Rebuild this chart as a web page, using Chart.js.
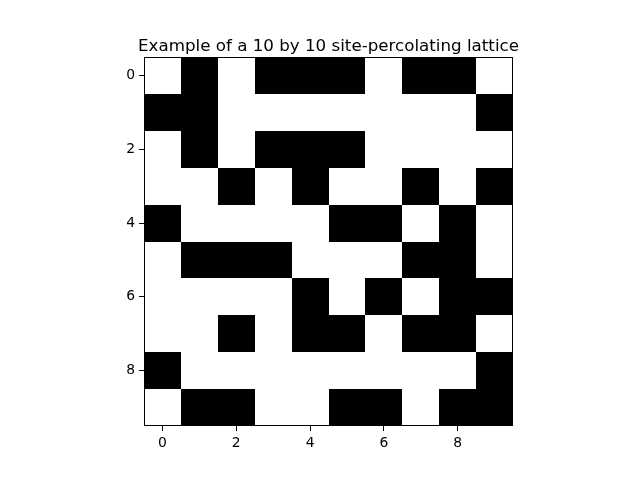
<!DOCTYPE html>
<html>
<head>
<meta charset="utf-8">
<script src="https://cdn.jsdelivr.net/npm/chart.js@4"></script>
<style>
html,body{margin:0;padding:0;background:#fff;}
#wrap{width:640px;height:479px;}
</style>
</head>
<body>
<div id="wrap"><canvas id="c" width="640" height="479"></canvas></div>
<script>
// lattice rows (0 = white/empty, 1 = black/occupied), row 0 at top
const row0 = [0,1,0,1,1,1,0,1,1,0];
const row1 = [1,1,0,0,0,0,0,0,0,1];
const row2 = [0,1,0,1,1,1,0,0,0,0];
const row3 = [0,0,1,0,1,0,0,1,0,1];
const row4 = [1,0,0,0,0,1,1,0,1,0];
const row5 = [0,1,1,1,0,0,0,1,1,0];
const row6 = [0,0,0,0,1,0,1,0,1,1];
const row7 = [0,0,1,0,1,1,0,1,1,0];
const row8 = [1,0,0,0,0,0,0,0,0,1];
const row9 = [0,1,1,0,0,1,1,0,1,1];
const lattice = [row0,row1,row2,row3,row4,row5,row6,row7,row8,row9];
const xTicks = [0,2,4,6,8];
const yTicks = [0,2,4,6,8];
const titleText = 'Example of a 10 by 10 site-percolating lattice';

const cells = [];
lattice.forEach((row, r) => row.forEach((v, c) => cells.push({x: c, y: r, v: v})));

const latticePlugin = {
  id: 'lattice',
  beforeDatasetsDraw(chart) {
    const ctx = chart.ctx, xs = chart.scales.x, ys = chart.scales.y;
    ctx.save();
    chart.data.datasets[0].data.forEach(p => {
      const x0 = Math.round(xs.getPixelForValue(p.x - 0.5)), x1 = Math.round(xs.getPixelForValue(p.x + 0.5));
      const y0 = Math.round(ys.getPixelForValue(p.y - 0.5)), y1 = Math.round(ys.getPixelForValue(p.y + 0.5));
      ctx.fillStyle = p.v ? '#000000' : '#ffffff';
      ctx.fillRect(Math.min(x0,x1), Math.min(y0,y1), Math.abs(x1-x0), Math.abs(y1-y0));
    });
    ctx.restore();
  },
  afterDatasetsDraw(chart) {
    const ctx = chart.ctx, a = chart.chartArea;
    ctx.save();
    ctx.strokeStyle = '#000';
    ctx.lineWidth = 1;
    ctx.strokeRect(Math.round(a.left)+0.5, Math.round(a.top)+0.5, Math.round(a.right-a.left)-1, Math.round(a.bottom-a.top)-1);
    // axes title, centred over the plot area
    ctx.fillStyle = '#000';
    ctx.font = '16.7px "DejaVu Sans"';
    ctx.textAlign = 'center';
    ctx.textBaseline = 'alphabetic';
    ctx.fillText(titleText, (a.left + a.right) / 2, a.top - 6.5);
    ctx.restore();
  }
};

new Chart(document.getElementById('c'), {
  type: 'scatter',
  data: { datasets: [{ data: cells, pointRadius: 0, pointHoverRadius: 0 }] },
  options: {
    responsive: false,
    animation: false,
    events: [],
    layout: { padding: { left: 0, right: 127, top: 57, bottom: 0 } },
    plugins: {
      legend: { display: false },
      tooltip: { enabled: false },
      title: { display: false }
    },
    scales: {
      x: {
        type: 'linear', min: -0.5, max: 9.5,
        afterBuildTicks: s => { s.ticks = xTicks.map(v => ({value: v})); },
        afterFit: s => { s.height = 53; },
        ticks: { color: '#000', font: { family: 'DejaVu Sans', size: 13.9 }, padding: 4, maxRotation: 0, autoSkip: false },
        grid: { display: true, drawOnChartArea: false, drawTicks: true, tickLength: 5, color: '#000' },
        border: { display: false }
      },
      y: {
        type: 'linear', min: -0.5, max: 9.5, reverse: true,
        afterBuildTicks: s => { s.ticks = yTicks.map(v => ({value: v})); },
        afterFit: s => { s.width = 144; },
        ticks: { color: '#000', font: { family: 'DejaVu Sans', size: 13.9 }, padding: 4, autoSkip: false },
        grid: { display: true, drawOnChartArea: false, drawTicks: true, tickLength: 5, color: '#000' },
        border: { display: false }
      }
    }
  },
  plugins: [latticePlugin]
});
</script>
</body>
</html>
